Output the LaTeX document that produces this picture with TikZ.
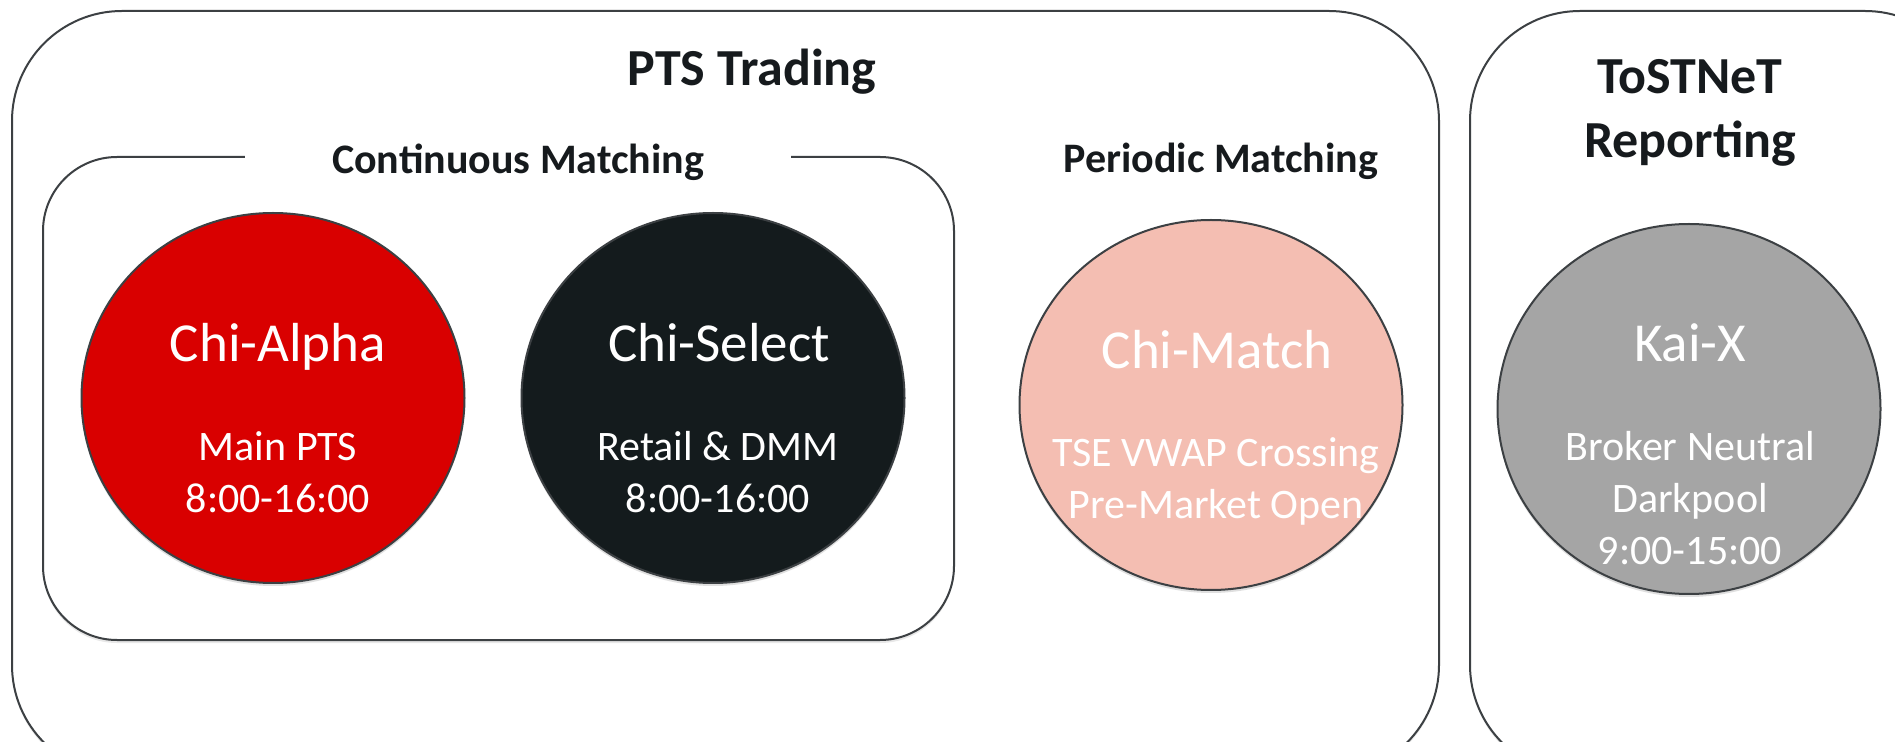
\documentclass[tikz,border=0pt]{standalone}
\usepackage{fontspec}
\setmainfont{Carlito}
\usetikzlibrary{shapes.geometric,shadows}
\definecolor{alphared}{HTML}{D90000}
\definecolor{selectblack}{HTML}{141B1D}
\definecolor{matchpink}{HTML}{F4BEB2}
\definecolor{kaigray}{HTML}{A5A5A5}
\definecolor{edgegray}{HTML}{3C4043}
\definecolor{titleblack}{HTML}{161A1D}

\begin{document}
\begin{tikzpicture}[
    x=0.5pt, y=-0.5pt,                      % one unit = one pixel of the reference
    group/.style={                          % Rounded boxes round the venues
        draw=edgegray,
        line width=1pt,
        fill=white,
        drop shadow={shadow xshift=0pt, shadow yshift=-1.5pt, opacity=0.18}
    },
    venue/.style={                          % Venue circles
        ellipse,
        draw=edgegray,
        line width=1pt,
        minimum width=191.5pt,
        minimum height=185pt,
        drop shadow={shadow xshift=0pt, shadow yshift=-1.5pt, opacity=0.25}
    },
    venuename/.style={font=\fontsize{27.5}{33}\selectfont, text=white, anchor=base},
    % multi-line texts: base anchor is the baseline of the last line
    venueinfo/.style={font=\fontsize{21}{26}\selectfont, text=white, align=center, anchor=base},
    heading/.style={font=\bfseries\fontsize{26}{32}\selectfont, text=titleblack, align=center, anchor=base},
    subheading/.style={font=\bfseries\fontsize{21}{25}\selectfont, text=titleblack, anchor=base}
]

% Page size of the reference, boxes run off its right and bottom edges
\useasboundingbox (0,0) rectangle (1895,742);
\clip (0,0) rectangle (1895,742);

% PTS Trading
\draw[group, rounded corners=55pt] (12,11) rectangle (1439,775);
\node[heading] (pts) at (752,86) {PTS Trading};

% Continuous matching, title sits in a gap of the top line
\draw[group, rounded corners=37pt] (43,157) rectangle (954,640);
\node[subheading, fill=white, minimum width=273pt] (continuous) at (518,174) {Continuous Matching};

\node[venue, fill=alphared] (alpha) at (273,398) {};
\node[venuename] (alpha-name) at (278,362) {Chi-Alpha};
\node[venueinfo] (alpha-info) at (278,513) {Main PTS\\8:00-16:00};

\node[venue, fill=selectblack] (select) at (713,398) {};
\node[venuename] (select-name) at (719,362) {Chi-Select};
\node[venueinfo] (select-info) at (718,513) {Retail \& DMM\\8:00-16:00};

% Periodic matching
\node[subheading] (periodic) at (1221,173) {Periodic Matching};
\node[venue, fill=matchpink] (match) at (1211,405) {};
\node[venuename] (match-name) at (1217,369) {Chi-Match};
\node[venueinfo] (match-info) at (1216,519) {TSE VWAP Crossing\\Pre-Market Open};

% ToSTNeT reporting
\draw[group, rounded corners=55pt] (1470,11) rectangle (1975,775);
\node[heading] (tostnet) at (1690,158) {ToSTNeT\\Reporting};
\node[venue, fill=kaigray] (kaix) at (1689,409) {};
\node[venuename] (kaix-name) at (1690,362) {Kai-X};
\node[venueinfo] (kaix-info) at (1690,565) {Broker Neutral\\Darkpool\\9:00-15:00};

\end{tikzpicture}
\end{document}
